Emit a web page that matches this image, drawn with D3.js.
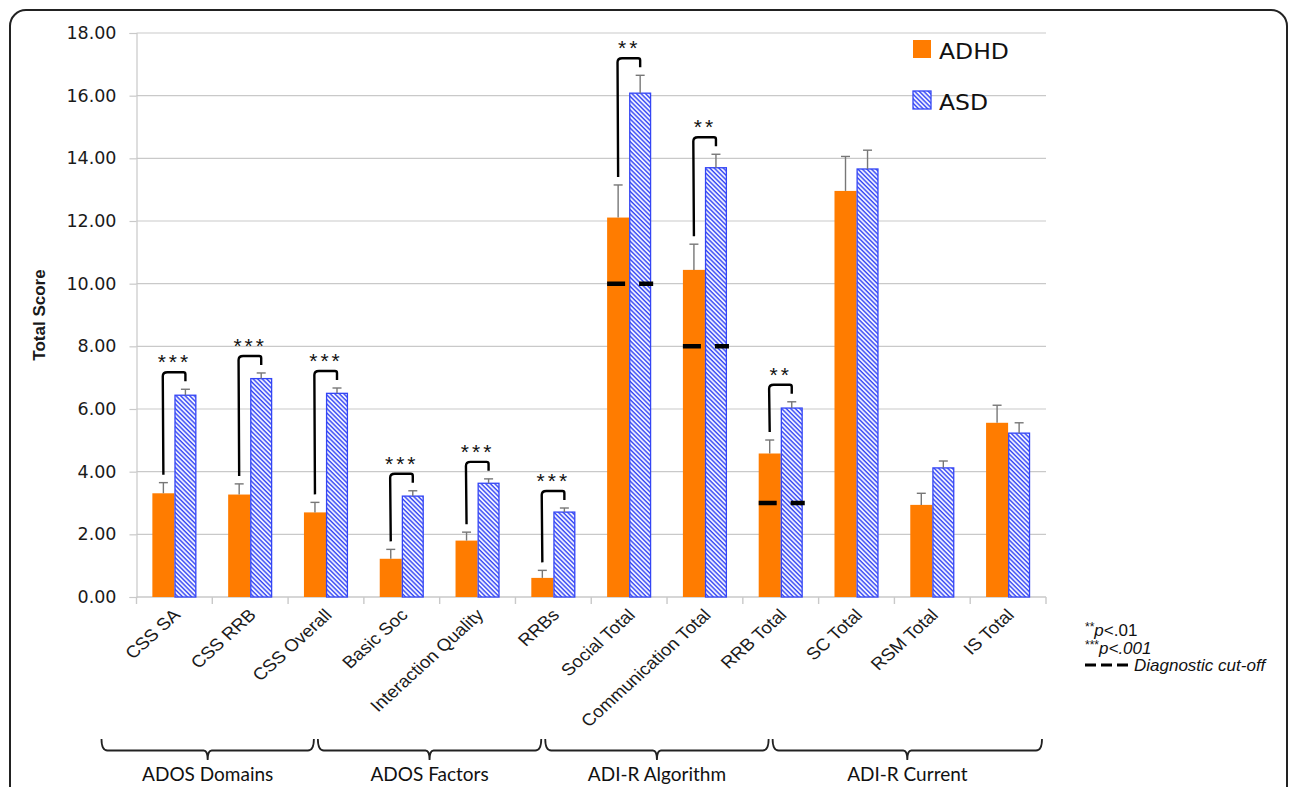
<!DOCTYPE html>
<html>
<head>
<meta charset="utf-8">
<script src="https://cdn.jsdelivr.net/npm/d3@7"></script>
<style>
    html, body { margin: 0; padding: 0; background: #ffffff; }
    svg { display: block; }
</style>
</head>
<body>
<div id="chart"></div>
<script>
const categories = ['CSS SA', 'CSS RRB', 'CSS Overall', 'Basic Soc', 'Interaction Quality', 'RRBs',
    'Social Total', 'Communication Total', 'RRB Total', 'SC Total', 'RSM Total', 'IS Total'];
const seriesNames = ['ADHD', 'ASD'];
const adhdMeans = [3.31, 3.27, 2.70, 1.22, 1.80, 0.61, 12.11, 10.44, 4.58, 12.96, 2.94, 5.56];
const adhdErrors = [0.34, 0.34, 0.32, 0.30, 0.27, 0.24, 1.04, 0.82, 0.43, 1.10, 0.37, 0.56];
const asdMeans = [6.44, 6.97, 6.50, 3.22, 3.63, 2.71, 16.08, 13.70, 6.03, 13.66, 4.12, 5.23];
const asdErrors = [0.19, 0.18, 0.17, 0.17, 0.14, 0.13, 0.57, 0.43, 0.20, 0.60, 0.22, 0.33];
const yTicks = [0, 2, 4, 6, 8, 10, 12, 14, 16, 18];

const sigCategories = ['CSS SA', 'CSS RRB', 'CSS Overall', 'Basic Soc', 'Interaction Quality', 'RRBs',
    'Social Total', 'Communication Total', 'RRB Total'];
const sigStars = ['***', '***', '***', '***', '***', '***', '**', '**', '**'];

const cutoffCategories = ['Social Total', 'Communication Total', 'RRB Total'];
const cutoffValues = [10, 8, 3];

const groupLabels = ['ADOS Domains', 'ADOS Factors', 'ADI-R Algorithm', 'ADI-R Current'];
const groupFirst = ['CSS SA', 'Basic Soc', 'Social Total', 'SC Total'];
const groupLast = ['CSS Overall', 'RRBs', 'RRB Total', 'IS Total'];

const orange = '#ff7c00';
const blue = '#3345f5';
const gridColor = '#c9c9c9';
const textColor = '#1a1a1a';

const width = 1295;
const height = 787;

const svg = d3.select('#chart').append('svg')
    .attr('width', width)
    .attr('height', height);

const defs = svg.append('defs');
const hatch = defs.append('pattern')
    .attr('id', 'hatch')
    .attr('patternUnits', 'userSpaceOnUse')
    .attr('width', 3.2)
    .attr('height', 3.2)
    .attr('patternTransform', 'rotate(-45)');
hatch.append('rect').attr('width', 3.2).attr('height', 3.2).attr('fill', '#ffffff');
hatch.append('line')
    .attr('x1', 1).attr('y1', 0).attr('x2', 1).attr('y2', 3.2)
    .attr('stroke', blue).attr('stroke-width', 1.5);

// outer frame
svg.append('rect')
    .attr('x', 10).attr('y', 10)
    .attr('width', 1277).attr('height', 820)
    .attr('rx', 16)
    .attr('fill', 'none')
    .attr('stroke', '#222')
    .attr('stroke-width', 2);

const xScale = d3.scaleBand()
    .domain(categories)
    .range([136.5, 1046])
    .padding(0);

const subScale = d3.scaleBand()
    .domain(seriesNames)
    .range([0, xScale.bandwidth()])
    .paddingInner(0)
    .paddingOuter(0.72);

const yScale = d3.scaleLinear()
    .domain([0, 18])
    .range([597, 33]);

const rows = categories.map((category, index) => ({
    category,
    values: [
        { series: 'ADHD', mean: adhdMeans[index], error: adhdErrors[index] },
        { series: 'ASD', mean: asdMeans[index], error: asdErrors[index] }
    ]
}));

// grid + y axis
svg.append('g')
    .attr('transform', 'translate(136.5,0)')
    .call(d3.axisLeft(yScale).tickValues(yTicks).tickSize(7).tickPadding(13).tickFormat(d3.format('.2f')))
    .call((group) => group.select('.domain').attr('stroke', gridColor).attr('stroke-width', 1.2))
    .call((group) => group.selectAll('line').attr('stroke', gridColor).attr('stroke-width', 1.2))
    .call((group) => group.selectAll('text')
        .attr('fill', textColor)
        .style('font-family', '"DejaVu Sans", sans-serif')
        .style('font-size', '17.5px'));

svg.append('g')
    .selectAll('line')
    .data(yTicks.filter((tick) => tick > 0))
    .enter()
    .append('line')
    .attr('x1', 136.5)
    .attr('x2', 1046)
    .attr('y1', (tick) => yScale(tick))
    .attr('y2', (tick) => yScale(tick))
    .attr('stroke', gridColor)
    .attr('stroke-width', 1.2);

// x axis
svg.append('line')
    .attr('x1', 136.5).attr('x2', 1046)
    .attr('y1', yScale(0)).attr('y2', yScale(0))
    .attr('stroke', gridColor).attr('stroke-width', 1.4);

const boundaries = categories.map((category) => xScale(category)).concat([xScale.range()[1]]);
svg.append('g')
    .selectAll('line')
    .data(boundaries)
    .enter()
    .append('line')
    .attr('x1', (value) => value)
    .attr('x2', (value) => value)
    .attr('y1', yScale(0))
    .attr('y2', yScale(0) + 7)
    .attr('stroke', gridColor)
    .attr('stroke-width', 1.4);

svg.append('g')
    .selectAll('text')
    .data(categories)
    .enter()
    .append('text')
    .attr('transform', (category) => `translate(${xScale(category) + xScale.bandwidth() / 2 + 7},${yScale(0) + 19}) scale(1.1,1) rotate(-45)`)
    .attr('text-anchor', 'end')
    .attr('fill', textColor)
    .style('font-family', '"Liberation Sans", Arial, sans-serif')
    .style('font-size', '17px')
    .text((category) => category);

// bars
const groups = svg.append('g')
    .selectAll('g')
    .data(rows)
    .enter()
    .append('g')
    .attr('transform', (row) => `translate(${xScale(row.category)},0)`);

groups.selectAll('rect')
    .data((row) => row.values)
    .enter()
    .append('rect')
    .attr('x', (datum) => subScale(datum.series) + (datum.series === 'ASD' ? 0.6 : 0))
    .attr('y', (datum) => yScale(datum.mean))
    .attr('width', (datum) => subScale.bandwidth() - (datum.series === 'ASD' ? 1.2 : 0))
    .attr('height', (datum) => yScale(0) - yScale(datum.mean))
    .attr('fill', (datum) => datum.series === 'ADHD' ? orange : 'url(#hatch)')
    .attr('stroke', (datum) => datum.series === 'ADHD' ? 'none' : blue)
    .attr('stroke-width', 1.3);

// error bars
const errorGroups = groups.selectAll('.err')
    .data((row) => row.values)
    .enter()
    .append('g')
    .attr('class', 'err');

errorGroups.append('line')
    .attr('x1', (datum) => subScale(datum.series) + subScale.bandwidth() / 2)
    .attr('x2', (datum) => subScale(datum.series) + subScale.bandwidth() / 2)
    .attr('y1', (datum) => yScale(datum.mean))
    .attr('y2', (datum) => yScale(datum.mean + datum.error))
    .attr('stroke', '#777')
    .attr('stroke-width', 1.4);

errorGroups.append('line')
    .attr('x1', (datum) => subScale(datum.series) + subScale.bandwidth() / 2 - 4.5)
    .attr('x2', (datum) => subScale(datum.series) + subScale.bandwidth() / 2 + 4.5)
    .attr('y1', (datum) => yScale(datum.mean + datum.error))
    .attr('y2', (datum) => yScale(datum.mean + datum.error))
    .attr('stroke', '#777')
    .attr('stroke-width', 1.4);

// diagnostic cut-off dashes
svg.append('g')
    .selectAll('line')
    .data(cutoffCategories.map((category, index) => ({ category, value: cutoffValues[index] })))
    .enter()
    .append('line')
    .attr('x1', (datum) => xScale(datum.category) + subScale('ADHD'))
    .attr('x2', (datum) => xScale(datum.category) + subScale('ASD') + subScale.bandwidth() + 2)
    .attr('y1', (datum) => yScale(datum.value))
    .attr('y2', (datum) => yScale(datum.value))
    .attr('stroke', '#000')
    .attr('stroke-width', 4.5)
    .attr('stroke-dasharray', '18,14');

// significance brackets
const sigData = sigCategories.map((category, index) => {
    const row = categories.indexOf(category);
    return { category, stars: sigStars[index], row };
});

const brackets = svg.append('g')
    .selectAll('g')
    .data(sigData)
    .enter()
    .append('g');

brackets.append('path')
    .attr('d', (datum) => {
        const base = xScale(datum.category);
        const leftX = base + subScale('ADHD') + subScale.bandwidth() / 2;
        const rightX = base + subScale('ASD') + subScale.bandwidth() / 2;
        const leftBottom = yScale(adhdMeans[datum.row] + adhdErrors[datum.row]) - 8;
        const blueTop = yScale(asdMeans[datum.row] + asdErrors[datum.row]);
        const top = blueTop - 17;
        const rightBottom = blueTop - 8;
        return `M${leftX},${leftBottom} L${leftX - 0.6},${top + 4} Q${leftX - 0.6},${top} ${leftX + 4},${top} `
            + `L${rightX - 2},${top} Q${rightX},${top} ${rightX},${top + 2} L${rightX},${rightBottom}`;
    })
    .attr('fill', 'none')
    .attr('stroke', '#000')
    .attr('stroke-width', 2.4);

brackets.append('text')
    .attr('x', (datum) => xScale(datum.category) + xScale.bandwidth() / 2)
    .attr('y', (datum) => yScale(asdMeans[datum.row] + asdErrors[datum.row]) - 17 - 3)
    .attr('text-anchor', 'middle')
    .attr('fill', '#111')
    .style('font-family', '"Liberation Sans", Arial, sans-serif')
    .style('font-size', '21px')
    .style('letter-spacing', '3px')
    .text((datum) => datum.stars);

// y axis title
svg.append('text')
    .attr('transform', `translate(45,${(yScale(0) + yScale(18)) / 2}) rotate(-90)`)
    .attr('text-anchor', 'middle')
    .attr('fill', textColor)
    .style('font-family', '"Liberation Sans", Arial, sans-serif')
    .style('font-weight', 'bold')
    .style('font-size', '17px')
    .text('Total Score');

// legend
const legend = svg.append('g');
const legendRows = legend.selectAll('g')
    .data(seriesNames)
    .enter()
    .append('g')
    .attr('transform', (name, index) => `translate(913,${40 + index * 51})`);

legendRows.append('rect')
    .attr('width', 18)
    .attr('height', 18)
    .attr('fill', (name) => name === 'ADHD' ? orange : 'url(#hatch)')
    .attr('stroke', (name) => name === 'ADHD' ? 'none' : blue)
    .attr('stroke-width', 1.3);

legendRows.append('text')
    .attr('transform', 'translate(26,19) scale(1.12,1)')
    .attr('fill', '#111')
    .style('font-family', '"DejaVu Sans", sans-serif')
    .style('font-size', '21px')
    .text((name) => name);

// notes
const notes = svg.append('g')
    .attr('transform', 'translate(1085,0)')
    .style('font-family', '"Liberation Sans", Arial, sans-serif')
    .attr('fill', '#111');

const note1 = notes.append('text').attr('y', 636).style('font-size', '17px');
note1.append('tspan').attr('dy', -5).style('font-size', '12px').text('**');
note1.append('tspan').attr('dy', 5).style('font-style', 'italic').text('p');
note1.append('tspan').text('<.01');

const note2 = notes.append('text').attr('y', 654).style('font-size', '17px');
note2.append('tspan').attr('dy', -5).style('font-size', '12px').text('***');
note2.append('tspan').attr('dy', 5).style('font-style', 'italic').text('p<.001');

notes.append('line')
    .attr('x1', 0).attr('x2', 44)
    .attr('y1', 665).attr('y2', 665)
    .attr('stroke', '#000')
    .attr('stroke-width', 3)
    .attr('stroke-dasharray', '11,5');

notes.append('text')
    .attr('x', 49)
    .attr('y', 671)
    .style('font-size', '17px')
    .style('font-style', 'italic')
    .text('Diagnostic cut-off');

// category group braces
const braceData = groupLabels.map((label, index) => {
    const start = xScale(groupFirst[index]);
    const end = xScale(groupLast[index]) + xScale.bandwidth();
    const left = index === 0 ? start - 35 : start - 46;
    const right = index === groupLabels.length - 1 ? end - 4 : end - 50;
    return { label, left, right, mid: (left + right) / 2 };
});

const braces = svg.append('g')
    .selectAll('g')
    .data(braceData)
    .enter()
    .append('g');

braces.append('path')
    .attr('d', (datum) => {
        const top = 739;
        const line = 750.5;
        const stem = 760;
        return `M${datum.left},${top} Q${datum.left},${line} ${datum.left + 6},${line} `
            + `L${datum.mid - 4},${line} Q${datum.mid},${line} ${datum.mid},${stem} `
            + `Q${datum.mid},${line} ${datum.mid + 4},${line} `
            + `L${datum.right - 6},${line} Q${datum.right},${line} ${datum.right},${top}`;
    })
    .attr('fill', 'none')
    .attr('stroke', '#222')
    .attr('stroke-width', 1.8);

braces.append('text')
    .attr('x', (datum) => datum.mid)
    .attr('y', 781)
    .attr('text-anchor', 'middle')
    .attr('fill', '#111')
    .style('font-family', 'Lato, "Open Sans", sans-serif')
    .style('font-size', '19px')
    .text((datum) => datum.label);
</script>
</body>
</html>
